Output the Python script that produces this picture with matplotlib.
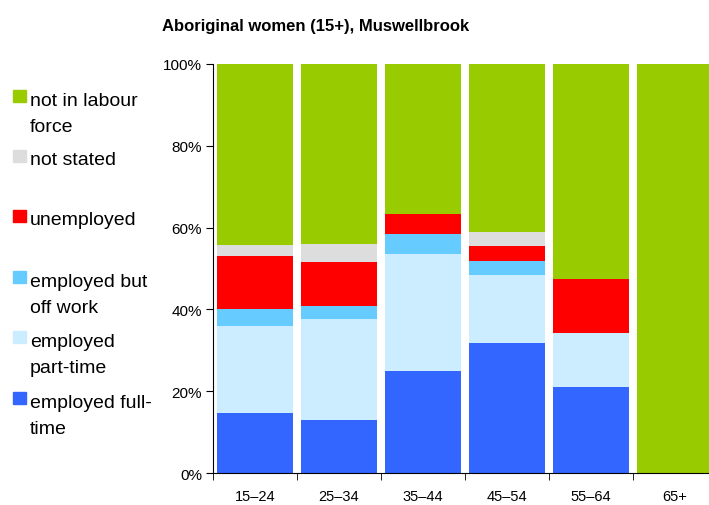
import numpy as np
import matplotlib.pyplot as plt
from matplotlib.patches import Rectangle

# data (percent of each age group)
ages = ['15–24', '25–34', '35–44', '45–54', '55–64', '65+']
full_time = [14.6, 13.0, 25.0, 31.8, 21.1, 0]
part_time = [21.4, 24.7, 28.5, 16.5, 13.2, 0]
off_work = [4.2, 3.2, 4.9, 3.5, 0, 0]
unemployed = [12.8, 10.8, 5.0, 3.6, 13.1, 0]
not_stated = [2.7, 4.3, 0, 3.5, 0, 0]
not_in_lf = [44.3, 44.0, 36.6, 41.1, 52.6, 100.0]

series = [full_time, part_time, off_work, unemployed, not_stated, not_in_lf]
colors = ['#3366FF', '#CCECFF', '#66CCFF', '#FF0000', '#DDDDDD', '#99CC00']
labels = ['employed full-\ntime', 'employed\npart-time', 'employed but\noff work',
          'unemployed', 'not stated', 'not in labour\nforce']

plt.rcParams['font.family'] = ['Liberation Sans', 'DejaVu Sans']

fig = plt.figure(figsize=(7.09, 5.06), dpi=100)
ax = fig.add_axes([213/709, 1-474.3/506, 504/709, (474.3-64.7)/506])

x = np.arange(len(ages))
bottom = np.zeros(len(ages))
for vals, c in zip(series, colors):
    ax.bar(x, vals, bottom=bottom, width=0.91, color=c, edgecolor='none')
    bottom += np.array(vals)

ax.set_xlim(-0.5, len(ages) - 0.5)
ax.set_ylim(0, 100)
ax.set_yticks([0, 20, 40, 60, 80, 100])
ax.set_yticklabels([f'{v}%' for v in [0, 20, 40, 60, 80, 100]], fontsize=11)
ax.set_xticks(x)
ax.set_xticklabels(ages, fontsize=10.5)
ax.tick_params(axis='x', which='major', length=0, pad=11)
ax.set_xticks(np.arange(-0.5, len(ages)), minor=True)
ax.tick_params(axis='x', which='minor', length=5, direction='out')
ax.tick_params(axis='y', length=5, direction='out', pad=3)
for s in ['top', 'right']:
    ax.spines[s].set_visible(False)

fig.text(316/709, 1-27/506, 'Aboriginal women (15+), Muswellbrook',
         ha='center', va='center', fontsize=12, fontweight='bold')

# legend on the left
leg_y = [399, 338, 278, 217, 157, 97]
for lab, c, yy in zip(labels, colors, leg_y):
    fig.patches.append(Rectangle((13/709, 1-(yy+6)/506), 13/709, 12/506,
                                 transform=fig.transFigure, color=c))
    extra = 27 * lab.count('\n')
    fig.text(30/709, 1-(yy+8+extra)/506, lab, ha='left', va='baseline',
             fontsize=14, linespacing=1.7)

fig.savefig('out.png', dpi=100)
